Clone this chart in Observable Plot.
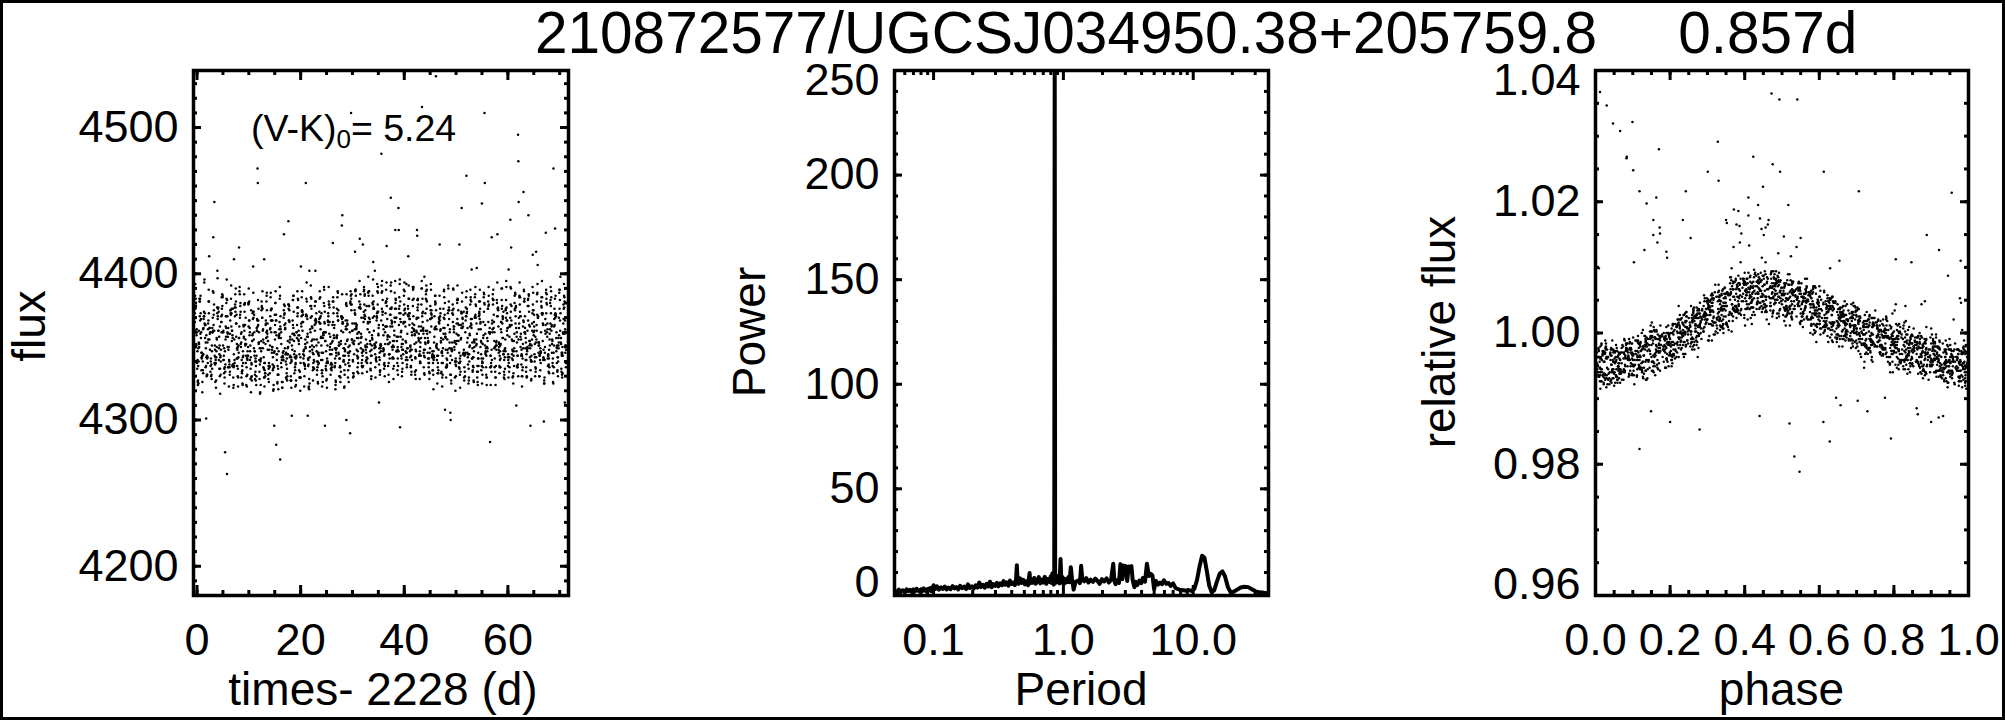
<!DOCTYPE html>
<html>
<head>
<meta charset="utf-8">
<script src="https://cdn.jsdelivr.net/npm/d3@7"></script>
<script src="https://cdn.jsdelivr.net/npm/@observablehq/plot@0.6"></script>
<style>
  html,body{margin:0;padding:0;background:#fff;}
  #page{position:relative;width:2005px;height:720px;overflow:hidden;background:#fff;font-family:"Liberation Sans",Arial,Helvetica,sans-serif;color:#000;}
  #title{position:absolute;left:535px;top:0;font-size:58.5px;line-height:66px;white-space:pre;}
  #border{position:absolute;left:0;top:0;width:2005px;height:720px;box-sizing:border-box;border:3px solid #000;pointer-events:none;}
  .panel{position:absolute;top:66px;}
</style>
</head>
<body>
<div id="page">
  <div id="title"></div>
  <div id="border"></div>
</div>
<script>
// ---------------- data ----------------
const starName = "210872577/UGCSJ034950.38+205759.8";
const periodLabel = "0.857d";
const period = 0.857;        // days
const epoch = -0.686;        // time (d, minus 2228) of phase 0 in cycle 0
const vkValue = "5.24";

// light curve, one row per rotation cycle: phase of each observation and its flux
const phaseByCycle = [
[0.012,0.030,0.047,0.066,0.083,0.101,0.118,0.137,0.155,0.173,0.190,0.236,0.306,0.379,0.450,0.523,0.591,0.665,0.735,0.808,0.877,0.951,
 0.272,0.342,0.415,0.486,0.558,0.629,0.700,0.772,0.843,0.915,0.986],
[0.056,0.128,0.197,0.270,0.340,0.413,0.483,0.556,0.626,0.697,0.769,0.840,0.912,0.983, 0.020,0.092,0.161,0.234,0.304,0.377,0.447,0.520,0.590,0.661,0.733,0.804,0.876,0.947],
[0.008,0.080,0.151,0.223,0.293,0.366,0.436,0.509,0.578,0.652,0.721,0.794,0.864,0.937, 0.044,0.116,0.187,0.259,0.329,0.402,0.472,0.545,0.614,0.688,0.757,0.830,0.900,0.973],
[0.041,0.112,0.184,0.253,0.327,0.396,0.470,0.539,0.612,0.683,0.755,0.825,0.897,0.969, 0.005,0.076,0.148,0.217,0.291,0.360,0.434,0.503,0.576,0.647,0.719,0.789,0.861,0.933],
[0.064,0.134,0.206,0.277,0.349,0.419,0.492,0.562,0.634,0.706,0.777,0.848,0.920,0.991, 0.028,0.098,0.170,0.241,0.313,0.383,0.456,0.526,0.598,0.670,0.741,0.812,0.884,0.955],
[0.030,0.103,0.173,0.246,0.316,0.389,0.459,0.532,0.601,0.674,0.744,0.818,0.887,0.960, 0.066,0.139,0.209,0.282,0.352,0.425,0.495,0.568,0.637,0.710,0.780,0.854,0.923,0.996],
[0.013,0.083,0.155,0.226,0.298,0.368,0.441,0.511,0.584,0.655,0.727,0.797,0.870,0.940, 0.049,0.119,0.191,0.262,0.334,0.404,0.477,0.547,0.620,0.691,0.763,0.833,0.906,0.976],
[0.048,0.118,0.191,0.261,0.334,0.404,0.477,0.547,0.619,0.690,0.762,0.832,0.905,0.975, 0.012,0.082,0.155,0.225,0.298,0.368,0.441,0.511,0.583,0.654,0.726,0.796,0.869,0.939],
[0.025,0.098,0.168,0.241,0.311,0.384,0.454,0.527,0.597,0.669,0.740,0.812,0.883,0.955, 0.061,0.134,0.204,0.277,0.347,0.420,0.490,0.563,0.633,0.705,0.776,0.848,0.919,0.991],
[0.059,0.131,0.202,0.274,0.345,0.416,0.488,0.559,0.630,0.702,0.773,0.845,0.916,0.988, 0.023,0.095,0.166,0.238,0.309,0.380,0.452,0.523,0.594,0.666,0.737,0.809,0.880,0.952],
[0.004,0.076,0.147,0.219,0.290,0.361,0.433,0.505,0.575,0.648,0.718,0.790,0.861,0.933, 0.040,0.112,0.183,0.255,0.326,0.397,0.469,0.541,0.611,0.684,0.754,0.826,0.897,0.969],
[0.037,0.107,0.180,0.250,0.322,0.393,0.465,0.536,0.607,0.679,0.750,0.822,0.893,0.964, 0.001,0.071,0.144,0.214,0.286,0.357,0.429,0.500,0.571,0.643,0.714,0.786,0.857,0.928],
[0.052,0.123,0.195,0.265,0.338,0.408,0.481,0.551,0.623,0.694,0.766,0.836,0.909,0.980, 0.016,0.087,0.159,0.229,0.302,0.372,0.445,0.515,0.587,0.658,0.730,0.800,0.873,0.944],
[0.018,0.089,0.160,0.232,0.303,0.375,0.446,0.517,0.588,0.661,0.731,0.803,0.874,0.946, 0.054,0.125,0.196,0.268,0.339,0.411,0.482,0.553,0.624,0.697,0.767,0.839,0.910,0.982],
[0.066,0.137,0.209,0.280,0.352,0.423,0.495,0.566,0.637,0.709,0.780,0.852,0.923,0.994, 0.030,0.101,0.173,0.244,0.316,0.387,0.459,0.530,0.601,0.673,0.744,0.816,0.887,0.958],
[0.029,0.099,0.172,0.242,0.314,0.385,0.457,0.528,0.600,0.670,0.743,0.813,0.885,0.956, 0.065,0.135,0.208,0.278,0.350,0.421,0.493,0.564,0.636,0.706,0.779,0.849,0.921,0.992],
[0.043,0.116,0.187,0.258,0.330,0.401,0.473,0.544,0.615,0.687,0.758,0.830,0.901,0.973, 0.007,0.080,0.151,0.222,0.294,0.365,0.437,0.508,0.579,0.651,0.722,0.794,0.865,0.937],
[0.010,0.082,0.153,0.224,0.296,0.368,0.439,0.510,0.581,0.653,0.724,0.796,0.867,0.938, 0.046,0.118,0.189,0.260,0.332,0.404,0.475,0.546,0.617,0.689,0.760,0.832,0.903,0.974],
[0.058,0.128,0.200,0.271,0.343,0.414,0.486,0.557,0.628,0.700,0.771,0.843,0.914,0.985, 0.022,0.092,0.164,0.235,0.307,0.378,0.450,0.521,0.592,0.664,0.735,0.807,0.878,0.949],
[0.034,0.104,0.176,0.247,0.319,0.390,0.462,0.533,0.604,0.676,0.747,0.819,0.890,0.962, 0.070,0.140,0.212,0.283,0.355,0.426,0.498,0.569,0.640,0.712,0.783,0.855,0.926,0.998],
[0.022,0.092,0.164,0.235,0.307,0.378,0.450,0.521,0.592,0.664,0.735,0.807,0.878,0.950, 0.058,0.128,0.200,0.271,0.343,0.414,0.486,0.557,0.628,0.700,0.771,0.843,0.914,0.986],
[0.062,0.134,0.205,0.276,0.348,0.419,0.491,0.562,0.633,0.705,0.776,0.848,0.919,0.991, 0.026,0.098,0.169,0.240,0.312,0.383,0.455,0.526,0.597,0.669,0.740,0.812,0.883,0.955],
[0.007,0.077,0.149,0.220,0.292,0.363,0.435,0.506,0.577,0.649,0.720,0.792,0.863,0.935, 0.043,0.113,0.185,0.256,0.328,0.399,0.471,0.542,0.613,0.685,0.756,0.828,0.899,0.971],
[0.040,0.111,0.182,0.254,0.325,0.397,0.468,0.540,0.611,0.682,0.754,0.825,0.897,0.968, 0.004,0.075,0.146,0.218,0.289,0.361,0.432,0.504,0.575,0.646,0.718,0.789,0.861,0.932],
[0.050,0.121,0.192,0.264,0.335,0.406,0.478,0.549,0.620,0.692,0.763,0.835,0.906,0.977, 0.014,0.085,0.156,0.228,0.299,0.370,0.442,0.513,0.584,0.656,0.727,0.799,0.870,0.941],
[0.015,0.087,0.158,0.229,0.301,0.372,0.444,0.515,0.586,0.658,0.729,0.801,0.872,0.944, 0.051,0.123,0.194,0.265,0.337,0.408,0.480,0.551,0.622,0.694,0.765,0.837,0.908,0.980],
[0.068,0.139,0.210,0.282,0.353,0.425,0.496,0.567,0.639,0.710,0.782,0.853,0.925,0.996, 0.032,0.103,0.174,0.246,0.317,0.389,0.460,0.531,0.603,0.674,0.746,0.817,0.889,0.960],
[0.027,0.099,0.170,0.241,0.313,0.384,0.456,0.527,0.598,0.670,0.741,0.813,0.884,0.956, 0.063,0.135,0.206,0.277,0.349,0.420,0.492,0.563,0.634,0.706,0.777,0.849,0.920,0.992],
[0.046,0.116,0.188,0.259,0.331,0.402,0.474,0.545,0.616,0.688,0.759,0.831,0.902,0.974, 0.010,0.080,0.152,0.223,0.295,0.366,0.438,0.509,0.580,0.652,0.723,0.795,0.866,0.938],
[0.003,0.075,0.146,0.218,0.289,0.360,0.432,0.503,0.575,0.646,0.718,0.789,0.861,0.932, 0.039,0.111,0.182,0.254,0.325,0.396,0.468,0.539,0.611,0.682,0.754,0.825,0.897,0.968],
[0.059,0.130,0.201,0.273,0.344,0.416,0.487,0.558,0.630,0.701,0.773,0.844,0.915,0.987, 0.023,0.094,0.165,0.237,0.308,0.380,0.451,0.522,0.594,0.665,0.737,0.808,0.879,0.951],
[0.034,0.106,0.177,0.248,0.320,0.391,0.463,0.534,0.605,0.677,0.748,0.820,0.891,0.963, 0.070,0.142,0.213,0.284,0.356,0.427,0.499,0.570,0.641,0.713,0.784,0.856,0.927,0.999],
[0.019,0.091,0.162,0.234,0.305,0.377,0.448,0.520,0.591,0.662,0.734,0.805,0.877,0.948, 0.055,0.127,0.198,0.270,0.341,0.413,0.484,0.556,0.627,0.698,0.770,0.841,0.913,0.984],
[0.053,0.125,0.196,0.268,0.339,0.410,0.482,0.553,0.625,0.696,0.767,0.839,0.910,0.982, 0.017,0.089,0.160,0.232,0.303,0.374,0.446,0.517,0.589,0.660,0.731,0.803,0.874,0.946],
[0.012,0.083,0.154,0.226,0.297,0.369,0.440,0.512,0.583,0.654,0.726,0.797,0.869,0.940, 0.048,0.119,0.190,0.262,0.333,0.405,0.476,0.548,0.619,0.690,0.762,0.833,0.905,0.976],
[0.064,0.136,0.207,0.279,0.350,0.422,0.493,0.565,0.636,0.707,0.779,0.850,0.922,0.993, 0.028,0.100,0.171,0.243,0.314,0.386,0.457,0.529,0.600,0.671,0.743,0.814,0.886,0.957],
[0.031,0.101,0.173,0.244,0.316,0.387,0.459,0.530,0.601,0.673,0.744,0.816,0.887,0.959, 0.067,0.137,0.209,0.280,0.352,0.423,0.495,0.566,0.637,0.709,0.780,0.852,0.923,0.995],
[0.016,0.088,0.159,0.231,0.302,0.374,0.445,0.516,0.588,0.659,0.731,0.802,0.874,0.945, 0.052,0.124,0.195,0.267,0.338,0.410,0.481,0.552,0.624,0.695,0.767,0.838,0.910,0.981],
[0.048,0.120,0.191,0.263,0.334,0.405,0.477,0.548,0.620,0.691,0.762,0.834,0.905,0.977, 0.012,0.084,0.155,0.227,0.298,0.369,0.441,0.512,0.584,0.655,0.726,0.798,0.869,0.941],
[0.009,0.080,0.151,0.223,0.294,0.365,0.437,0.508,0.579,0.651,0.722,0.794,0.865,0.937, 0.045,0.116,0.187,0.259,0.330,0.401,0.473,0.544,0.615,0.687,0.758,0.830,0.901,0.973],
[0.061,0.133,0.204,0.275,0.347,0.418,0.490,0.561,0.632,0.704,0.775,0.847,0.918,0.990, 0.025,0.097,0.168,0.239,0.311,0.382,0.454,0.525,0.596,0.668,0.739,0.811,0.882,0.954],
[0.026,0.097,0.168,0.240,0.311,0.383,0.454,0.526,0.597,0.668,0.740,0.811,0.883,0.954, 0.062,0.133,0.204,0.276,0.347,0.419,0.490,0.562,0.633,0.704,0.776,0.847,0.919,0.990],
[0.042,0.113,0.185,0.256,0.328,0.399,0.471,0.542,0.613,0.685,0.756,0.828,0.899,0.971, 0.006,0.077,0.149,0.220,0.292,0.363,0.435,0.506,0.577,0.649,0.720,0.792,0.863,0.935],
[0.006,0.077,0.148,0.220,0.291,0.362,0.434,0.505,0.577,0.648,0.719,0.791,0.862,0.934, 0.042,0.113,0.184,0.256,0.327,0.398,0.470,0.541,0.613,0.684,0.755,0.827,0.898,0.970],
[0.057,0.128,0.199,0.271,0.342,0.414,0.485,0.556,0.628,0.699,0.771,0.842,0.913,0.985, 0.021,0.092,0.163,0.235,0.306,0.378,0.449,0.520,0.592,0.663,0.735,0.806,0.877,0.949],
[0.035,0.107,0.178,0.250,0.321,0.392,0.464,0.535,0.607,0.678,0.749,0.821,0.892,0.964, 0.071,0.143,0.214,0.286,0.357,0.428,0.500,0.571,0.643,0.714,0.785,0.857,0.928,0.999],
[0.020,0.091,0.163,0.234,0.306,0.377,0.448,0.520,0.591,0.663,0.734,0.806,0.877,0.948, 0.056,0.127,0.199,0.270,0.342,0.413,0.484,0.556,0.627,0.699,0.770,0.842,0.913,0.984],
[0.052,0.124,0.195,0.267,0.338,0.410,0.481,0.552,0.624,0.695,0.767,0.838,0.909,0.981, 0.016,0.088,0.159,0.231,0.302,0.374,0.445,0.516,0.588,0.659,0.731,0.802,0.873,0.945],
[0.013,0.085,0.156,0.228,0.299,0.370,0.442,0.513,0.585,0.656,0.727,0.799,0.870,0.942, 0.049,0.121,0.192,0.264,0.335,0.406,0.478,0.549,0.621,0.692,0.763,0.835,0.906,0.978],
[0.067,0.139,0.210,0.282,0.353,0.425,0.496,0.567,0.639,0.710,0.782,0.853,0.924,0.996, 0.031,0.103,0.174,0.246,0.317,0.389,0.460,0.531,0.603,0.674,0.746,0.817,0.888,0.960],
[0.028,0.100,0.171,0.243,0.314,0.386,0.457,0.528,0.600,0.671,0.743,0.814,0.886,0.957, 0.064,0.136,0.207,0.279,0.350,0.422,0.493,0.564,0.636,0.707,0.779,0.850,0.922,0.993],
[0.043,0.114,0.186,0.257,0.329,0.400,0.472,0.543,0.614,0.686,0.757,0.829,0.900,0.972, 0.007,0.078,0.150,0.221,0.293,0.364,0.436,0.507,0.578,0.650,0.721,0.793,0.864,0.936],
[0.009,0.081,0.152,0.223,0.295,0.366,0.438,0.509,0.581,0.652,0.723,0.795,0.866,0.938, 0.045,0.117,0.188,0.259,0.331,0.402,0.474,0.545,0.617,0.688,0.759,0.831,0.902,0.974],
[0.059,0.130,0.202,0.273,0.344,0.416,0.487,0.559,0.630,0.701,0.773,0.844,0.916,0.987, 0.023,0.094,0.166,0.237,0.308,0.380,0.451,0.523,0.594,0.665,0.737,0.808,0.880,0.951],
[0.037,0.108,0.179,0.251,0.322,0.394,0.465,0.536,0.608,0.679,0.751,0.822,0.893,0.965, 0.001,0.072,0.143,0.215,0.286,0.358,0.429,0.500,0.572,0.643,0.715,0.786,0.857,0.929],
[0.022,0.094,0.165,0.237,0.308,0.380,0.451,0.522,0.594,0.665,0.737,0.808,0.879,0.951, 0.058,0.130,0.201,0.273,0.344,0.416,0.487,0.558,0.630,0.701,0.773,0.844,0.915,0.987],
[0.051,0.122,0.194,0.265,0.336,0.408,0.479,0.551,0.622,0.693,0.765,0.836,0.908,0.979, 0.015,0.086,0.158,0.229,0.300,0.372,0.443,0.515,0.586,0.657,0.729,0.800,0.872,0.943],
[0.004,0.075,0.147,0.218,0.290,0.361,0.433,0.504,0.575,0.647,0.718,0.790,0.861,0.932, 0.040,0.111,0.183,0.254,0.326,0.397,0.469,0.540,0.611,0.683,0.754,0.826,0.897,0.968],
[0.063,0.134,0.206,0.277,0.349,0.420,0.491,0.563,0.634,0.706,0.777,0.848,0.920,0.991, 0.027,0.098,0.170,0.241,0.313,0.384,0.455,0.527,0.598,0.670,0.741,0.812,0.884,0.955],
[0.031,0.102,0.174,0.245,0.317,0.388,0.460,0.531,0.602,0.674,0.745,0.817,0.888,0.960, 0.067,0.138,0.210,0.281,0.353,0.424,0.496,0.567,0.638,0.710,0.781,0.853,0.924,0.996],
[0.017,0.088,0.160,0.231,0.302,0.374,0.445,0.517,0.588,0.660,0.731,0.802,0.874,0.945, 0.053,0.124,0.196,0.267,0.338,0.410,0.481,0.553,0.624,0.696,0.767,0.838,0.910,0.981],
[0.047,0.118,0.190,0.261,0.332,0.404,0.475,0.547,0.618,0.690,0.761,0.832,0.904,0.975, 0.011,0.082,0.154,0.225,0.296,0.368,0.439,0.511,0.582,0.654,0.725,0.796,0.868,0.939],
[0.012,0.083,0.154,0.226,0.297,0.369,0.440,0.511,0.583,0.654,0.726,0.797,0.868,0.940, 0.048,0.119,0.190,0.262,0.333,0.405,0.476,0.547,0.619,0.690,0.762,0.833,0.904,0.976],
[0.055,0.127,0.198,0.270,0.341,0.413,0.484,0.555,0.627,0.698,0.770,0.841,0.912,0.984, 0.019,0.091,0.162,0.234,0.305,0.377,0.448,0.519,0.591,0.662,0.734,0.805,0.876,0.948],
[0.026,0.098,0.169,0.241,0.312,0.384,0.455,0.527,0.598,0.669,0.741,0.812,0.884,0.955, 0.062,0.134,0.205,0.277,0.348,0.420,0.491,0.563,0.634,0.705,0.777,0.848,0.920,0.991],
[0.041,0.112,0.183,0.255,0.326,0.398,0.469,0.541,0.612,0.683,0.755,0.826,0.898,0.969, 0.005,0.076,0.147,0.219,0.290,0.362,0.433,0.505,0.576,0.647,0.719,0.790,0.862,0.933],
[0.006,0.078,0.149,0.220,0.292,0.363,0.435,0.506,0.578,0.649,0.720,0.792,0.863,0.935, 0.042,0.114,0.185,0.256,0.328,0.399,0.471,0.542,0.614,0.685,0.756,0.828,0.899,0.971],
[0.066,0.137,0.208,0.280,0.351,0.423,0.494,0.565,0.637,0.708,0.780,0.851,0.922,0.994, 0.030,0.101,0.172,0.244,0.315,0.387,0.458,0.529,0.601,0.672,0.744,0.815,0.886,0.958],
[0.034,0.105,0.177,0.248,0.320,0.391,0.462,0.534,0.605,0.677,0.748,0.820,0.891,0.962, 0.070,0.141,0.213,0.284,0.356,0.427,0.498,0.570,0.641,0.713,0.784,0.856,0.927,0.998],
[0.019,0.090,0.162,0.233,0.305,0.376,0.448,0.519,0.590,0.662,0.733,0.805,0.876,0.948, 0.055,0.126,0.198,0.269,0.341,0.412,0.484,0.555,0.626,0.698,0.769,0.841,0.912,0.984],
[0.050,0.121,0.193,0.264,0.336,0.407,0.479,0.550,0.621,0.693,0.764,0.836,0.907,0.979, 0.014,0.085,0.157,0.228,0.300,0.371,0.443,0.514,0.585,0.657,0.728,0.800,0.871,0.943],
[0.014,0.086,0.157,0.229,0.300,0.371,0.443,0.514,0.586,0.657,0.728,0.800,0.871,0.943, 0.050,0.122,0.193,0.265,0.336,0.407,0.479,0.550,0.622,0.693,0.764,0.836,0.907,0.979],
[0.061,0.132,0.203,0.275,0.346,0.418,0.489,0.561,0.632,0.703,0.775,0.846,0.918,0.989, 0.025,0.096,0.167,0.239,0.310,0.382,0.453,0.525,0.596,0.667,0.739,0.810,0.882,0.953],
[0.028,0.099,0.170,0.242,0.313,0.385,0.456,0.527,0.599,0.670,0.742,0.813,0.885,0.956, 0.064,0.135,0.206,0.278,0.349,0.421,0.492,0.563,0.635,0.706,0.778,0.849,0.921,0.992],
[0.044,0.115,0.187,0.258,0.330,0.401,0.473,0.544,0.615,0.687,0.758,0.830,0.901,0.973, 0.008,0.079,0.151,0.222,0.294,0.365,0.437,0.508,0.579,0.651,0.722,0.794,0.865,0.937],
[0.008,0.079,0.150,0.222,0.293,0.365,0.436,0.507,0.579,0.650,0.722,0.793,0.864,0.936, 0.044,0.115,0.186,0.258,0.329,0.401,0.472,0.543,0.615,0.686,0.758,0.829,0.900,0.972],
[0.055,0.126,0.197,0.269,0.340,0.412,0.483,0.554,0.626,0.697,0.769,0.840,0.911,0.983, 0.019,0.090,0.161,0.233,0.304,0.376,0.447,0.518,0.590,0.661,0.733,0.804,0.875,0.947],
[0.024,0.095,0.166,0.238,0.309,0.381,0.452,0.524,0.595,0.666,0.738,0.809,0.881,0.952, 0.060,0.131,0.202,0.274,0.345,0.417,0.488,0.560,0.631,0.702,0.774,0.845,0.917,0.988],
[0.063,0.135,0.206,0.278,0.349,0.420,0.492,0.563,0.635,0.706,0.778,0.849,0.920,0.992, 0.027,0.099,0.170,0.242,0.313,0.384,0.456,0.527,0.599,0.670,0.742,0.813,0.884,0.956],
[0.030,0.102,0.173,0.244,0.316,0.387,0.459,0.530,0.601,0.673,0.744,0.816,0.887,0.959, 0.066,0.138,0.209,0.280,0.352,0.423,0.495,0.566,0.637,0.709,0.780,0.852,0.923,0.995],
[0.048,0.119,0.190,0.262,0.333,0.405,0.476,0.547,0.619,0.690,0.762,0.833,0.904,0.976, 0.012,0.083,0.154,0.226,0.297,0.369,0.440,0.511,0.583,0.654,0.726,0.797,0.868,0.940],
[0.012,0.084,0.155,0.226,0.298,0.369,0.441,0.512,0.584,0.655,0.726,0.798,0.869,0.941, 0.048,0.120,0.191,0.262,0.334,0.405,0.477,0.548,0.620,0.691,0.762,0.834,0.905,0.977],
[0.058,0.129,0.200,0.272,0.343,0.415,0.486,0.557,0.629,0.700,0.772,0.843,0.914,0.986, 0.022,0.093,0.164,0.236,0.307,0.379,0.450,0.521,0.593,0.664,0.736,0.807,0.878,0.950],
[0.038,0.110,0.181,0.253,0.324,0.396,0.467,0.538,0.610,0.681,0.753,0.824,0.895,0.967, 0.002,0.074,0.145,0.217,0.288,0.360,0.431,0.502,0.574,0.645,0.717,0.788,0.859,0.931]
];
const fluxByCycle = [
[4515,4506,4494,4489,4471,4463,4449,4441,4430,4421,4409,4367,4373,4385,4376,4383,4360,4351,4362,4339,4347,4326,
 4367,4361,4393,4377,4378,4352,4358,4360,4335,4341,4324],
[4337,4325,4353,4352,4383,4371,4383,4359,4373,4369,4346,4343,4346,4319, 4327,4349,4340,4361,4350,4381,4381,4368,4385,4356,4360,4334,4342,4344],
[4326,4340,4362,4345,4369,4374,4394,4366,4365,4365,4336,4349,4301,4343, 4344,4334,4332,4363,4371,4371,4396,4373,4356,4365,4353,4337,4358,4330],
[4344,4331,4343,4362,4355,4381,4373,4412,4363,4359,4360,4333,4340,4330, 4331,4342,4353,4339,4366,4368,4389,4381,4355,4363,4348,4360,4337,4342],
[4331,4351,4335,4360,4370,4361,4387,4372,4379,4449,4344,4348,4326,4341, 4338,4328,4347,4363,4360,4388,4425,4365,4375,4361,4339,4351,4338,4343],
[4339,4327,4347,4350,4377,4402,4369,4376,4361,4374,4349,4335,4351,4364, 4322,4343,4356,4355,4373,4397,4371,4377,4361,4341,4357,4345,4330,4335],
[4318,4344,4340,4367,4367,4384,4372,4378,4385,4351,4361,4341,4332,4335, 4343,4331,4348,4371,4360,4376,4386,4384,4360,4360,4341,4344,4349,4325],
[4336,4278,4338,4364,4357,4380,4396,4263,4371,4350,4357,4363,4336,4323, 4329,4347,4333,4355,4371,4363,4383,4371,4382,4360,4359,4336,4348,4350],
[4341,4338,4331,4359,4375,4373,4383,4364,4376,4361,4337,4356,4376,4329, 4340,4336,4333,4368,4375,4372,4392,4373,4354,4361,4358,4338,4338,4322],
[4324,4410,4355,4339,4371,4386,4377,4381,4357,4372,4352,4337,4342,4350, 4336,4345,4337,4341,4377,4379,4374,4390,4366,4366,4342,4349,4348,4330],
[4335,4329,4351,4356,4356,4388,4386,4372,4380,4352,4359,4329,4341,4332, 4323,4343,4346,4418,4364,4391,4370,4378,4374,4350,4353,4360,4333,4337],
[4325,4343,4339,4365,4356,4379,4361,4379,4365,4351,4370,4344,4324,4336, 4334,4324,4347,4344,4364,4357,4386,4374,4380,4352,4355,4339,4352,4330],
[4342,4331,4347,4344,4380,4364,4380,4381,4358,4360,4347,4328,4343,4375, 4323,4342,4341,4344,4350,4379,4390,4368,4368,4363,4341,4351,4335,4319],
[4329,4338,4327,4354,4373,4369,4405,4370,4355,4372,4344,4347,4328,4333, 4339,4330,4354,4358,4359,4374,4387,4374,4349,4360,4347,4331,4340,4342],
[4337,4324,4344,4361,4361,4472,4462,4365,4376,4353,4353,4333,4349,4318, 4327,4340,4330,4363,4369,4368,4364,4382,4368,4352,4360,4341,4328,4338],
[4319,4340,4342,4347,4375,4378,4370,4388,4361,4362,4336,4343,4329,4339, 4341,4324,4349,4354,4381,4377,4370,4376,4349,4355,4353,4335,4410,4323],
[4334,4332,4332,4365,4366,4360,4385,4375,4357,4366,4354,4331,4337,4326, 4329,4339,4330,4352,4368,4356,4381,4387,4361,4359,4348,4354,4328,4335],
[4339,4348,4336,4351,4371,4384,4375,4360,4368,4346,4350,4368,4334,4335, 4337,4337,4332,4362,4363,4387,4368,4376,4376,4348,4350,4338,4343,4320],
[4324,4336,4296,4360,4355,4380,4388,4368,4283,4358,4341,4349,4326,4331, 4321,4337,4346,4347,4372,4365,4380,4360,4372,4368,4345,4345,4325,4337],
[4331,4321,4347,4356,4362,4367,4391,4273,4371,4356,4360,4336,4341,4322, 4335,4331,4357,4358,4359,4383,4385,4364,4362,4339,4352,4343,4326,4341],
[4322,4344,4343,4341,4370,4427,4372,4373,4349,4363,4345,4345,4346,4328, 4326,4346,4341,4347,4375,4379,4365,4378,4362,4366,4340,4329,4338,4332],
[4335,4330,4349,4345,4379,4376,4368,4378,4367,4343,4357,4339,4330,4343, 4342,4327,4345,4354,4350,4436,4379,4368,4375,4353,4355,4344,4327,4327],
[4327,4341,4303,4355,4359,4382,4382,4363,4374,4354,4332,4347,4336,4323, 4322,4340,4351,4348,4368,4365,4385,4385,4359,4345,4358,4343,4334,4338],
[4342,4327,4344,4360,4365,4388,4373,4377,4355,4361,4352,4358,4329,4333, 4339,4324,4343,4360,4356,4377,4371,4383,4382,4358,4354,4334,4345,4329],
[4320,4339,4405,4366,4371,4374,4388,4361,4372,4367,4342,4339,4344,4330, 4329,4343,4329,4356,4364,4384,4375,4367,4374,4372,4345,4347,4348,4323],
[4338,4337,4352,4350,4462,4371,4383,4381,4357,4369,4303,4342,4341,4322, 4338,4335,4355,4349,4372,4372,4394,4371,4353,4359,4357,4337,4338,4323],
[4328,4325,4347,4362,4360,4392,4378,4376,4371,4351,4363,4346,4327,4339, 4321,4402,4343,4350,4378,4370,4384,4383,4354,4364,4348,4355,4334,4336],
[4345,4341,4335,4355,4378,4368,4402,4369,4368,4373,4347,4331,4340,4340, 4335,4350,4340,4365,4361,4381,4366,4381,4367,4351,4355,4334,4336,4346],
[4325,4345,4346,4344,4369,4383,4366,4384,4362,4356,4357,4373,4334,4323, 4326,4338,4353,4339,4367,4374,4388,4370,4366,4371,4341,4351,4346,4332],
[4334,4330,4356,4359,4358,4380,4389,4367,4374,4354,4354,4335,4347,4327, 4341,4326,4346,4359,4360,4391,4378,4366,4296,4360,4360,4337,4334,4339],
[4322,4340,4340,4368,4373,4365,4381,4379,4377,4348,4345,4352,4338,4335, 4328,4342,4351,4339,4367,4371,4391,4379,4359,4367,4350,4357,4331,4335],
[4339,4334,4353,4348,4354,4421,4384,4373,4358,4363,4365,4337,4342,4321, 4345,4336,4338,4365,4381,4367,4381,4377,4356,4356,4336,4349,4339,4324],
[4327,4348,4344,4357,4376,4373,4371,4387,4368,4346,4351,4351,4330,4336, 4326,4346,4349,4356,4358,4384,4388,4368,4375,4345,4353,4342,4330,4342],
[4336,4329,4333,4361,4371,4433,4386,4366,4370,4360,4340,4341,4349,4334, 4337,4326,4352,4354,4371,4370,4369,4440,4367,4366,4344,4349,4340,4322],
[4323,4344,4348,4352,4362,4379,4300,4378,4354,4366,4355,4329,4339,4344, 4331,4347,4338,4368,4364,4380,4386,4362,4368,4365,4346,4334,4350,4326],
[4341,4337,4360,4291,4381,4385,4510,4375,4379,4355,4366,4353,4340,4332, 4346,4337,4351,4347,4380,4388,4379,4383,4386,4355,4361,4361,4341,4329],
[4332,4352,4345,4366,4362,4415,4388,4389,4366,4364,4348,4356,4359,4336, 4330,4352,4354,4375,4373,4372,4389,4385,4362,4363,4365,4344,4333,4342],
[4347,4339,4356,4352,4377,4377,4424,4377,4386,4353,4359,4370,4339,4346, 4343,4332,4360,4360,4381,4395,4377,4379,4376,4349,4356,4357,4337,4341],
[4336,4348,4337,4370,4374,4391,4379,4385,4369,4375,4350,4340,4346,4378, 4332,4344,4420,4347,4367,4388,4389,4372,4386,4371,4351,4348,4355,4341],
[4343,4333,4352,4362,4366,4398,4385,4370,4378,4367,4367,4347,4335,4339, 4350,4339,4342,4367,4387,4378,4388,4388,4360,4369,4354,4352,4334,4344],
[4330,4344,4358,4355,4385,4379,4408,4381,4361,4371,4352,4402,4345,4329, 4328,4348,4351,4356,4380,4370,4396,4376,4377,4376,4349,4351,4351,4336],
[4350,4341,4343,4368,4370,4393,4374,4387,4374,4358,4365,4338,4349,4341, 4342,4353,4340,4371,4373,4388,4379,4391,4359,4363,4312,4343,4346,4331],
[4334,4349,4351,4351,4482,4387,4395,4374,4382,4365,4349,4362,4338,4344, 4333,4351,4352,4347,4368,4392,4376,4388,4372,4374,4347,4358,4348,4335],
[4339,4330,4360,4364,4380,4381,4381,4419,4364,4369,4357,4352,4352,4331, 4345,4337,4352,4373,4364,4389,4394,4378,4383,4355,4358,4337,4352,4339],
[4345,4345,4342,4372,4364,4392,4388,4376,4377,4350,4364,4348,4354,4335, 4326,4345,4357,4353,4376,4372,4452,4394,4368,4366,4367,4342,4343,4351],
[4328,4350,4354,4358,4387,4376,4430,4383,4370,4370,4347,4354,4339,4348, 4342,4337,4361,4370,4367,4395,4380,4382,4376,4347,4357,4347,4334,4350],
[4342,4337,4445,4430,4376,4373,4393,4295,4381,4357,4360,4361,4342,4330, 4331,4357,4347,4365,4384,4378,4396,4369,4373,4367,4344,4350,4352,4333],
[4335,4355,4348,4366,4367,4385,4375,4388,4376,4373,4354,4341,4346,4343, 4348,4339,4352,4345,4372,4389,4379,4394,4367,4367,4364,4347,4353,4393],
[4346,4338,4359,4349,4378,4412,4383,4371,4373,4369,4369,4343,4351,4336, 4336,4349,4341,4372,4376,4371,4392,4383,4365,4373,4347,4350,4348,4337],
[4331,4348,4341,4363,4382,4378,4390,4391,4362,4365,4352,4358,4331,4342, 4344,4333,4360,4358,4366,4391,4389,4371,4383,4361,4361,4359,4333,4343],
[4348,4334,4353,4369,4370,4426,4377,4382,4379,4356,4359,4355,4344,4328, 4328,4347,4361,4360,4430,4382,4375,4383,4370,4354,4364,4344,4345,4347],
[4340,4353,4344,4356,4379,4395,4514,4373,4367,4374,4363,4346,4348,4332, 4339,4350,4339,4361,4364,4390,4390,4371,4383,4362,4361,4359,4336,4344],
[4398,4343,4356,4373,4361,4386,4392,4376,4381,4361,4346,4353,4353,4339, 4331,4348,4353,4352,4383,4388,4382,4389,4359,4368,4356,4342,4354,4336],
[4339,4328,4346,4349,4378,4375,4389,4364,4372,4370,4344,4345,4334,4342, 4342,4333,4332,4360,4369,4369,4393,4373,4375,4370,4343,4347,4334,4339],
[4321,4341,4353,4357,4362,4385,4379,4380,4535,4350,4362,4341,4344,4332, 4331,4347,4344,4343,4371,4363,4381,4385,4364,4375,4351,4352,4349,4325],
[4336,4344,4334,4367,4369,4370,4420,4371,4361,4362,4353,4332,4346,4347, 4339,4332,4348,4370,4366,4385,4368,4376,4373,4354,4356,4333,4339,4346],
[4329,4331,4349,4363,4359,4388,4384,4363,4380,4357,4357,4348,4329,4336, 4323,4344,4339,4355,4376,4370,4389,4369,4372,4307,4359,4356,4336,4336],
[4342,4338,4341,4348,4373,4392,4375,4381,4369,4349,4360,4339,4305,4300, 4337,4337,4355,4346,4365,4390,4375,4377,4375,4353,4362,4331,4344,4331],
[4325,4349,4347,4353,4375,4367,4390,4376,4362,4364,4348,4354,4340,4320, 4327,4348,4348,4341,4373,4379,4372,4389,4364,4360,4350,4353,4329,4340],
[4338,4330,4352,4359,4354,4380,4392,4382,4358,4354,4365,4336,4420,4339, 4342,4337,4340,4366,4382,4369,4383,4366,4375,4358,4339,4346,4335,4342],
[4331,4340,4333,4365,4374,4373,4373,4387,4370,4366,4345,4346,4374,4329, 4322,4344,4355,4356,4363,4445,4381,4363,4369,4364,4345,4345,4348,4327],
[4344,4333,4345,4346,4377,4384,4467,4373,4374,4346,4356,4338,4345,4335, 4336,4345,4330,4360,4368,4371,4371,4388,4376,4353,4363,4343,4345,4325],
[4327,4345,4350,4358,4364,4389,4384,4366,4365,4403,4342,4353,4333,4337, 4329,4340,4359,4351,4379,4382,4369,4381,4363,4369,4342,4349,4334,4343],
[4336,4326,4354,4350,4370,4371,4391,4379,4378,4355,4352,4359,4329,4326, 4343,4327,4347,4355,4353,4384,4386,4372,4370,4351,4366,4404,4333,4337],
[4324,4342,4342,4362,4381,4374,4369,4381,4366,4367,4354,4334,4342,4448, 4333,4346,4337,4371,4373,4372,4389,4376,4350,4362,4345,4353,4337,4325],
[4340,4339,4336,4356,4358,4387,4386,4510,4462,4365,4346,4347,4336,4344, 4339,4331,4352,4342,4367,4384,4374,4380,4379,4351,4359,4345,4349,4331],
[4329,4329,4356,4349,4376,4381,4378,4385,4360,4360,4363,4285,4344,4324, 4324,4350,4347,4354,4376,4367,4391,4379,4360,4360,4359,4336,4336,4344],
[4337,4348,4341,4368,4362,4386,4382,4382,4372,4349,4360,4342,4350,4329, 4339,4333,4425,4366,4360,4383,4379,4389,4363,4367,4354,4336,4350,4333],
[4324,4337,4353,4354,4382,4371,4427,4371,4377,4364,4346,4352,4337,4344, 4329,4351,4348,4351,4380,4394,4376,4376,4375,4348,4353,4350,4332,4336],
[4341,4351,4342,4362,4367,4390,4376,4378,4356,4369,4356,4374,4345,4333, 4347,4336,4352,4367,4360,4382,4390,4366,4371,4370,4345,4347,4329,4341],
[4328,4343,4349,4347,4376,4382,4391,4368,4373,4358,4363,4337,4341,4403, 4331,4348,4335,4355,4375,4370,4395,4377,4361,4368,4363,4343,4345,4329],
[4339,4333,4357,4364,4364,4437,4379,4390,4368,4365,4345,4348,4329,4347, 4343,4343,4336,4365,4370,4391,4374,4418,4378,4355,4342,4354,4341,4330],
[4332,4347,4337,4359,4385,4375,4386,4371,4378,4310,4357,4353,4336,4336, 4325,4344,4354,4349,4380,4376,4387,4366,4377,4363,4347,4360,4337,4344],
[4344,4495,4477,4449,4363,4384,4394,4374,4371,4350,4359,4344,4348,4330, 4338,4330,4355,4370,4366,4385,4379,4384,4357,4371,4355,4338,4345,4323],
[4330,4342,4352,4349,4456,4389,4381,4383,4360,4363,4349,4356,4333,4341, 4344,4334,4336,4364,4368,4367,4388,4381,4360,4371,4359,4341,4353,4336],
[4345,4330,4347,4361,4378,4368,4440,4386,4374,4354,4354,4343,4352,4334, 4329,4348,4350,4349,4382,4383,4378,4385,4365,4351,4364,4349,4296,4341],
[4327,4344,4340,4366,4373,4413,4375,4375,4358,4372,4361,4340,4343,4357, 4340,4328,4351,4355,4361,4391,4379,4387,4360,4367,4364,4345,4352,4330],
[4336,4335,4415,4355,4361,4386,4387,4406,4370,4353,4351,4353,4330,4344, 4333,4353,4343,4365,4381,4372,4393,4370,4371,4346,4353,4351,4330,4344],
[4341,4349,4339,4360,4378,4377,4395,4372,4373,4366,4341,4348,4299,4327, 4345,4334,4347,4346,4381,4384,4373,4384,4373,4354,4365,4343,4342,4325],
[4325,4341,4350,4369,4365,4387,4373,4380,4379,4357,4362,4337,4345,4337, 4329,4346,4361,4359,4428,4389,4383,4386,4360,4366,4342,4344,4344,4333],
[4342,4332,4355,4351,4380,4382,4378,4388,4361,4365,4352,4354,4337,4326, 4338,4348,4336,4359,4362,4366,4391,4373,4384,4364,4346,4355,4339,4342],
[4332,4472,4336,4364,4376,4372,4431,4373,4372,4371,4347,4350,4349,4333, 4325,4346,4351,4369,4365,4383,4370,4385,4372,4356,4360,4339,4351,4334],
[4343,4340,4351,4353,4358,4389,4389,4368,4398,4356,4356,4335,4346,4345, 4343,4330,4356,4349,4370,4387,4376,4382,4361,4373,4353,4352,4333,4344],
[4329,4350,4344,4360,4379,4376,4385,4384,4359,4368,4346,4351,4339,4339, 4331,4346,4332,4359,4366,4369,4393,4377,4381,4312,4362,4351,4336,4348]
];

// Lomb-Scargle periodogram: trial period (d) and power
const periodDays = [0.050,0.052,0.054,0.056,0.058,0.060,0.062,0.064,0.066,0.068,0.070,0.072,0.074,0.076,0.078,0.080,0.082,0.084,0.086,0.088,0.090,0.092,0.094,0.096,0.098,
0.100,0.103,0.106,0.110,0.114,0.118,0.122,0.126,0.130,0.135,0.140,0.145,0.150,0.155,0.160,0.166,0.172,0.178,0.184,0.190,0.197,0.204,0.211,0.218,0.225,0.232,0.240,0.248,0.256,0.264,0.272,0.280,0.289,0.298,0.307,0.316,
0.326,0.336,0.346,0.356,0.366,0.377,0.388,0.399,0.411,0.423,0.432,0.438,0.444,0.452,0.465,0.478,0.491,0.505,0.519,0.534,0.549,0.556,0.565,0.580,0.596,0.612,0.629,0.646,0.664,0.682,0.700,0.719,0.738,0.758,0.779,0.800,0.812,0.822,0.832,0.842,
0.850,0.857,0.864,
0.876,0.890,0.905,0.920,0.935,0.950,0.965,0.985,1.005,1.030,1.060,1.090,1.115,1.140,1.165,1.200,1.240,1.300,1.340,1.370,1.400,1.450,1.500,1.560,1.620,1.690,1.760,1.830,1.900,1.980,2.060,2.150,2.240,2.330,2.420,2.470,2.520,2.600,2.680,2.750,2.800,2.850,2.900,2.960,3.020,3.100,3.180,3.260,3.340,3.420,3.520,3.620,3.720,3.850,3.980,4.100,4.250,4.400,4.550,4.700,4.850,5.000,5.150,5.350,5.550,5.750,5.950,6.200,6.450,6.700,7.000,7.300,7.650,8.000,8.400,8.800,9.200,9.700,10.20,10.70,11.20,11.70,12.20,12.70,13.30,13.90,14.50,15.20,16.00,16.80,17.60,18.50,19.50,20.50,21.80,23.20,24.80,26.50,28.30,30.20,32.50,35.00,38.00];
const lsPower = [1.2,0.6,1.8,0.9,1.5,0.5,2.0,1.1,1.7,0.7,1.9,1.0,2.2,1.3,0.8,2.0,1.2,2.4,1.4,0.9,2.1,1.5,2.6,1.1,1.9,
3.9,2.1,3.4,1.8,2.9,2.2,3.3,1.9,2.8,2.0,3.5,2.4,3.0,1.9,3.6,2.5,3.2,2.1,4.3,2.6,3.4,2.3,3.9,2.8,5.2,3.1,4.1,2.7,4.6,3.3,5.6,3.0,4.4,3.6,5.0,3.4,
4.8,3.9,5.9,4.2,5.3,3.7,6.1,4.5,5.2,4.0,6.8,13.5,5.5,4.6,7.2,5.0,6.5,4.3,5.8,3.9,9.8,4.9,6.4,5.1,7.4,4.6,5.9,7.8,4.8,6.6,5.2,7.9,4.6,6.9,5.5,8.2,5.0,9.6,5.8,4.2,
6.0,262,7.0,
5.1,8.4,5.6,6.3,4.8,16.5,6.1,7.8,4.4,6.9,5.3,7.7,5.4,12.5,7.0,1.8,5.5,6.2,4.9,13.2,6.4,5.8,7.3,5.2,6.6,5.5,7.1,6.0,4.6,6.8,5.7,7.2,5.2,6.5,14.2,6.0,4.4,6.3,5.0,14.0,12.1,6.8,13.4,11.6,13.1,5.9,12.9,12.4,13.0,6.2,3.0,5.5,4.0,6.1,4.9,7.4,5.6,14.2,8.3,9.4,8.6,2.0,6.0,4.2,5.2,4.4,6.3,4.6,5.0,3.6,4.8,2.6,2.0,1.6,1.5,1.3,1.6,1.2,2.2,6.5,13.0,18.0,17.0,11.0,3.5,0.5,1.5,5.5,9.5,10.5,8.0,3.0,0.3,0.8,1.8,2.8,3.2,3.0,2.0,1.0,0.5,0.3,0.2];

// tick values
const timeTicks = [0, 20, 40, 60];
const fluxTicks = [4200, 4300, 4400, 4500];
const periodTicks = [0.1, 1, 10];
const powerTicks = [0, 50, 100, 150, 200, 250];
const phaseTicks = [0, 0.2, 0.4, 0.6, 0.8, 1.0];
const relFluxTicks = [0.96, 0.98, 1.00, 1.02, 1.04];

// ---------------- derived table ----------------
const lc = [];
phaseByCycle.forEach((phs, c) => {
  const fl = fluxByCycle[c];
  const n = Math.min(phs.length, fl.length);
  for (let k = 0; k < n; k++) lc.push({cycle: c, phase: phs[k], flux: fl[k]});
});
const medFlux = d3.median(lc, d => d.flux);
for (const d of lc) { d.time = epoch + (d.cycle + d.phase) * period; d.rel = d.flux / medFlux; }
const pg = periodDays.map((p, i) => ({period: p, power: lsPower[i]}));

// ---------------- drawing ----------------
const FONT = '"Liberation Sans", Arial, Helvetica, sans-serif';
const FH = 525;              // frame height (px)
const TICK_FS = 45, LABEL_FS = 46;
const DOT_R = 1.25;
const SVG_H = 654, M_TOP = 4, M_BOTTOM = 125;
document.getElementById("title").textContent = starName + "     " + periodLabel;

const page = document.getElementById("page");
const border = document.getElementById("border");

function boxTicks(xMaj, xMin, yMaj, yMin, W) {
  const s = {stroke: "#000", strokeWidth: 3};
  return [
    Plot.tickX(xMaj, {x: d => d, insetTop: FH - 10, ...s}),
    Plot.tickX(xMaj, {x: d => d, insetBottom: FH - 10, ...s}),
    Plot.tickX(xMin, {x: d => d, insetTop: FH - 5, ...s}),
    Plot.tickX(xMin, {x: d => d, insetBottom: FH - 5, ...s}),
    Plot.tickY(yMaj, {y: d => d, insetRight: W - 8, ...s}),
    Plot.tickY(yMaj, {y: d => d, insetLeft: W - 8, ...s}),
    Plot.tickY(yMin, {y: d => d, insetRight: W - 4, ...s}),
    Plot.tickY(yMin, {y: d => d, insetLeft: W - 4, ...s})
  ];
}
const xLab = (vals, fmt) => Plot.axisX(vals, {tickSize: 0, tickPadding: 28, fontSize: TICK_FS, label: null, tickFormat: fmt});
const yLab = (vals, fmt, dy = 0) => Plot.axisY(vals, {tickSize: 0, tickPadding: 15, fontSize: TICK_FS, label: null, tickFormat: fmt, dy});

function place(svg, left) {
  svg.classList.add("panel");
  svg.style.left = left + "px";
  page.insertBefore(svg, border);
}
function addText(svg, text, x, y, rotate) {
  d3.select(svg).append("text")
    .attr("font-family", FONT).attr("font-size", LABEL_FS).attr("fill", "#000")
    .attr("text-anchor", "middle")
    .attr("transform", `translate(${x},${y})` + (rotate ? ` rotate(${rotate})` : ""))
    .text(text);
}
const baseStyle = {fontFamily: FONT, fontSize: "45px", color: "#000", background: "transparent", overflow: "visible"};

// Panel 1: flux against time
const svg1 = Plot.plot({
  width: 680, height: SVG_H, marginLeft: 193, marginRight: 112, marginTop: M_TOP, marginBottom: M_BOTTOM,
  style: baseStyle,
  x: {domain: [-0.68, 71.7]},
  y: {domain: [4180, 4539]},
  marks: [
    Plot.dot(lc, {x: "time", y: "flux", r: DOT_R, fill: "#000", clip: true}),
    ...boxTicks(timeTicks, d3.range(0, 71, 5), fluxTicks, d3.range(4190, 4539, 10), 375),
    Plot.frame({stroke: "#000", strokeWidth: 3.5}),
    xLab(timeTicks, d => String(d)),
    yLab(fluxTicks, d => String(d))
  ]
});
place(svg1, 0);
addText(svg1, "flux", 45, 260, -90);
addText(svg1, "times- 2228 (d)", 383, 639);
{
  const t = d3.select(svg1).append("text").attr("font-family", FONT).attr("font-size", 37.5).attr("fill", "#000")
    .attr("text-anchor", "start").attr("x", 251).attr("y", 75);
  t.append("tspan").text("(V-K)");
  t.append("tspan").attr("font-size", 26).attr("dy", 7).text("0");
  t.append("tspan").attr("dy", -7).text("= " + vkValue);
}

// Panel 2: periodogram
const logMinor = [0.06,0.07,0.08,0.09,0.2,0.3,0.4,0.5,0.6,0.7,0.8,0.9,2,3,4,5,6,7,8,9,20,30];
const svg2 = Plot.plot({
  width: 680, height: SVG_H, marginLeft: 214, marginRight: 92, marginTop: M_TOP, marginBottom: M_BOTTOM,
  style: baseStyle,
  x: {type: "log", domain: [0.05, 38]},
  y: {domain: [-1, 250]},
  marks: [
    Plot.line(pg, {x: "period", y: "power", stroke: "#000", strokeWidth: 4, clip: true}),
    ...boxTicks(periodTicks, logMinor, powerTicks, d3.range(10, 250, 10), 374),
    Plot.frame({stroke: "#000", strokeWidth: 3.5}),
    xLab(periodTicks, d => d.toFixed(1)),
    yLab([50, 100, 150, 200], d => String(d)),
    yLab([250], d => String(d), 10),
    yLab([0], d => String(d), -11)
  ]
});
place(svg2, 680);
addText(svg2, "Power", 85, 266, -90);
addText(svg2, "Period", 401, 639);

// Panel 3: light curve folded on the period
const svg3 = Plot.plot({
  width: 645, height: SVG_H, marginLeft: 235, marginRight: 37, marginTop: M_TOP, marginBottom: M_BOTTOM,
  style: baseStyle,
  x: {domain: [0, 1]},
  y: {domain: [0.96, 1.04]},
  marks: [
    Plot.dot(lc, {x: "phase", y: "rel", r: DOT_R, fill: "#000", clip: true}),
    ...boxTicks(phaseTicks, d3.range(0.05, 1, 0.05), relFluxTicks, d3.range(0.965, 1.04, 0.005), 373),
    Plot.frame({stroke: "#000", strokeWidth: 3.5}),
    xLab(phaseTicks, d3.format(".1f")),
    yLab([0.98, 1.00, 1.02], d3.format(".2f")),
    yLab([1.04], d3.format(".2f"), 10),
    yLab([0.96], d3.format(".2f"), -11)
  ]
});
place(svg3, 1360);
addText(svg3, "relative flux", 95, 266, -90);
addText(svg3, "phase", 421.5, 639);
</script>
</body>
</html>
